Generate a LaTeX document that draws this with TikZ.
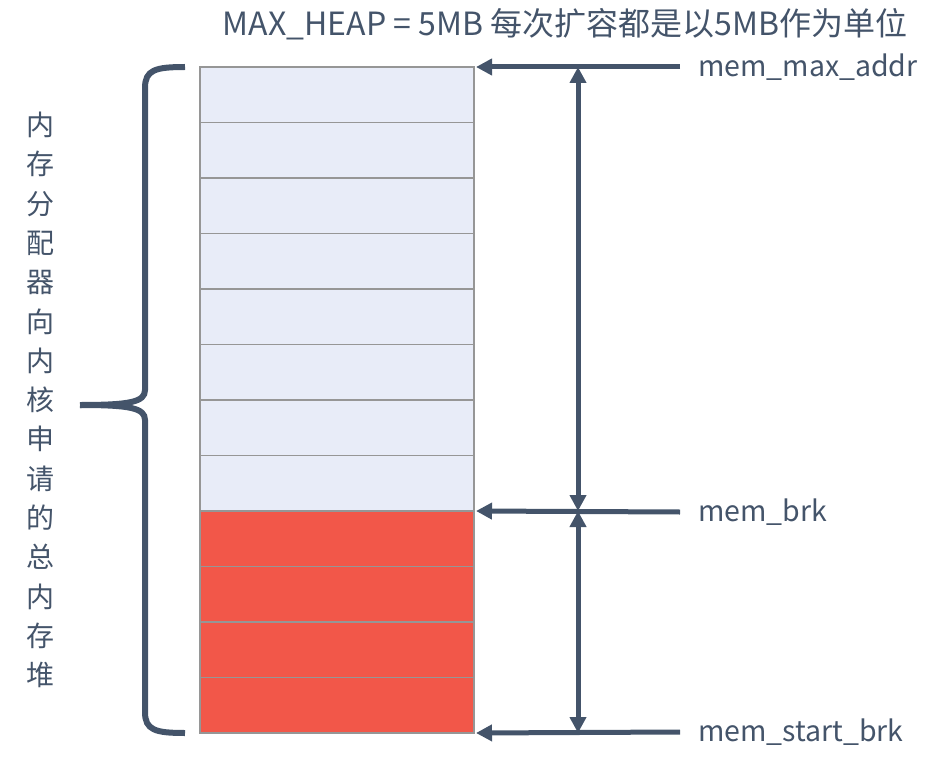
\documentclass[tikz,border=0pt]{standalone}
\usepackage{fontspec}
\setmainfont{Noto Sans CJK SC}
\usetikzlibrary{positioning}
\usetikzlibrary{arrows.meta}
\definecolor{slate}{RGB}{68,84,106}
\definecolor{cellblue}{RGB}{232,236,248}
\definecolor{cellred}{RGB}{242,87,73}
\definecolor{cellline}{RGB}{150,150,150}

\begin{document}
\begin{tikzpicture}[x=1pt, y=-1pt, >={Triangle[length=16pt,width=16pt]},
    cell/.style={draw=cellline, line width=1.2pt, minimum width=274pt, minimum height=55.5pt, inner sep=0pt, outer sep=0pt, anchor=north west},
    ptr/.style={draw=slate, line width=5pt},
    lbl/.style={text=slate, font=\fontsize{28.5}{32}\selectfont, anchor=west, inner sep=0pt}]
    \useasboundingbox (0,0) rectangle (947,762);
    % heap cells
    \foreach \i in {1,...,8}
        \node[cell, fill=cellblue] (cell\i) at (200, {67+(\i-1)*55.5}) {};
    \foreach \i in {9,...,12}
        \node[cell, fill=cellred] (cell\i) at (200, {67+(\i-1)*55.5}) {};
    % title
    \node[text=slate, font=\fontsize{32}{36}\selectfont, inner sep=0pt] (title) at (565,24) {MAX\_HEAP = 5MB 每次扩容都是以5MB作为单位};
    % pointer labels
    \node[lbl] (maxaddr) at (698,67) {mem\_max\_addr};
    \node[lbl] (brk) at (698,512) {mem\_brk};
    \node[lbl] (startbrk) at (698,732) {mem\_start\_brk};
    \draw[ptr, ->] ([xshift=-18pt]maxaddr.west) -- ([xshift=2pt]cell1.north east);
    \draw[ptr, ->] ([xshift=-18pt]brk.west) -- ([xshift=2pt]cell9.north east);
    \draw[ptr, ->] ([xshift=-18pt]startbrk.west) -- ([xshift=2pt]cell12.south east);
    % extents
    \coordinate (vtop) at (578,67);
    \coordinate (vmid) at (578,511);
    \coordinate (vbot) at (578,733);
    \draw[ptr, <->] (vtop) -- (vmid);
    \draw[ptr, <->] (vmid) -- (vbot);
    % brace
    \draw[slate, line width=6pt] (185,67) .. controls (155,67) and (145,70) .. (145,88) -- (145,390)
        .. controls (145,402) and (130,405) .. (80,405);
    \draw[slate, line width=6pt] (185,733) .. controls (155,733) and (145,730) .. (145,712) -- (145,420)
        .. controls (145,408) and (130,405) .. (80,405);
    \node[text=slate, font=\fontsize{28}{39.3}\selectfont, align=center, inner sep=0pt] (total) at (40,400)
        {内\\存\\分\\配\\器\\向\\内\\核\\申\\请\\的\\总\\内\\存\\堆};
\end{tikzpicture}
\end{document}
